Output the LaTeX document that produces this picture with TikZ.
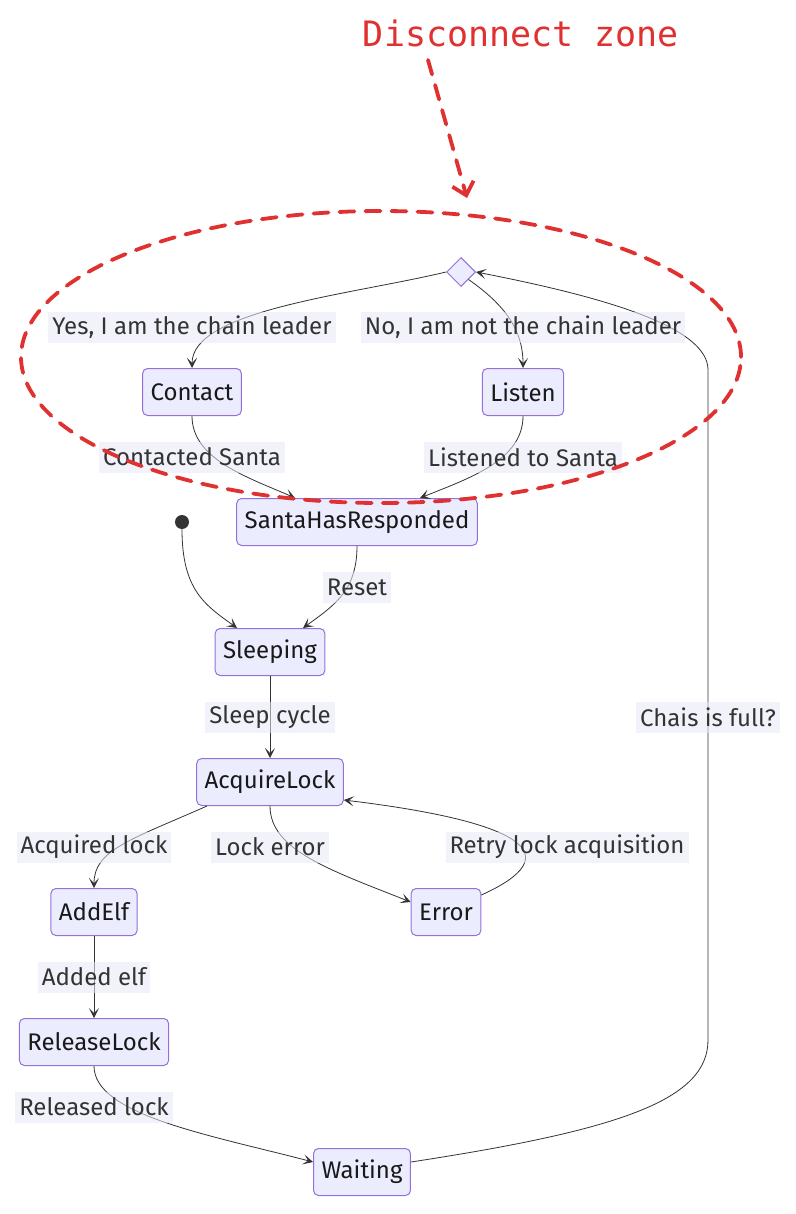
\documentclass[tikz,border=0pt]{standalone}
\usepackage{fontspec}
\setmainfont{Fira Sans}
\newfontfamily\zonefont{DejaVu Sans Mono}
\usetikzlibrary{shapes.geometric,arrows.meta}
\definecolor{statefill}{HTML}{ECECFF}
\definecolor{stateline}{HTML}{9370DB}
\definecolor{edgeline}{HTML}{333333}
\definecolor{labelfill}{HTML}{E8E8F8}
\definecolor{zonered}{HTML}{E03131}
\tikzset{
  state/.style={draw=stateline, line width=1pt, fill=statefill, rounded corners=5pt, minimum height=47pt,
    inner xsep=8pt, font=\fontsize{24}{28}\selectfont, text=black!90},
  lbl/.style={fill=labelfill, fill opacity=.55, text opacity=1, text=edgeline, inner xsep=4pt,
    minimum height=31pt, font=\fontsize{24}{28}\selectfont},
  trans/.style={draw=edgeline, line width=.8pt, -{Stealth[length=10pt,width=10pt,inset=5pt]}},
  zone/.style={draw=zonered, line width=3.8pt, dash pattern=on 15pt off 11pt, line cap=round},
}
\begin{document}
\begin{tikzpicture}[x=1pt,y=-1pt]
  \useasboundingbox (0,0) rectangle (795,1214);
  \foreach \n/\x/\y in {Contact/192/392, Listen/523/392, SantaHasResponded/357/522,
      Sleeping/270/652, AcquireLock/270/782, AddElf/94/912, Error/446/912,
      ReleaseLock/94/1042, Waiting/362/1172} {
    \node[state] (\n) at (\x,\y) {\n};
  }
  \node[diamond, draw=stateline, line width=1pt, fill=statefill, minimum width=29pt, minimum height=29pt,
    inner sep=0pt] (choice) at (461,272) {};
  \node[circle, fill=edgeline, minimum size=14pt, inner sep=0pt] (start) at (182,522) {};
  \draw[trans] (choice.west) .. controls (350,295) and (192,310) .. (Contact.north);
  \draw[trans] (choice.south east) .. controls (505,305) and (523,330) .. (Listen.north);
  \draw[trans] (Contact.south) .. controls (192,460) and (250,478) .. ([xshift=-62pt]SantaHasResponded.north);
  \draw[trans] (Listen.south) .. controls (523,460) and (470,478) .. ([xshift=63pt]SantaHasResponded.north);
  \draw[trans] (start) .. controls (182,590) and (205,605) .. ([xshift=-33pt]Sleeping.north);
  \draw[trans] (SantaHasResponded.south) .. controls (357,590) and (335,605) .. ([xshift=33pt]Sleeping.north);
  \draw[trans] (Sleeping) -- (AcquireLock);
  \draw[trans] ([xshift=-63pt]AcquireLock.south) .. controls (130,840) and (94,850) .. (AddElf.north);
  \draw[trans] (AcquireLock.south) .. controls (270,850) and (330,870) .. ([yshift=10pt]Error.west);
  \draw[trans] ([yshift=17pt]Error.east) .. controls (570,855) and (525,822) .. ([yshift=-18pt]AcquireLock.east);
  \draw[trans] (AddElf) -- (ReleaseLock);
  \draw[trans] (ReleaseLock.south) .. controls (94,1115) and (210,1135) .. ([yshift=10pt]Waiting.west);
  \draw[trans] ([yshift=10pt]Waiting.east) .. controls (620,1130) and (708,1100) .. (708,1040)
    -- (708,370) .. controls (708,330) and (620,300) .. (choice.east);
  \foreach \n/\x/\y/\t in {lyes/192/327/{Yes, I am the chain leader},
      lno/523/327/{No, I am not the chain leader}, lcontacted/192/457/{Contacted Santa},
      llistened/523/457/{Listened to Santa}, lreset/357/587/{Reset},
      lsleep/270/717/{Sleep cycle}, lfull/708/717/{Chais is full?},
      lacquired/94/847/{Acquired lock}, lerror/270/847/{Lock error},
      lretry/567/847/{Retry lock acquisition}, ladded/94/977/{Added elf},
      lreleased/94/1107/{Released lock}} {
    \node[lbl] (\n) at (\x,\y) {\t};
  }
  \draw[zone] (381,357) ellipse [x radius=360pt, y radius=146pt];
  \node[text=zonered, font=\zonefont\fontsize{35}{40}\selectfont] (zonetitle) at (521,33) {Disconnect zone};
  \coordinate (zonetail) at (428,60);
  \coordinate (zonetip) at (467,198);
  \draw[zone, -{Straight Barb[length=12pt,width=22pt]}] (zonetail) -- (zonetip);
\end{tikzpicture}
\end{document}
